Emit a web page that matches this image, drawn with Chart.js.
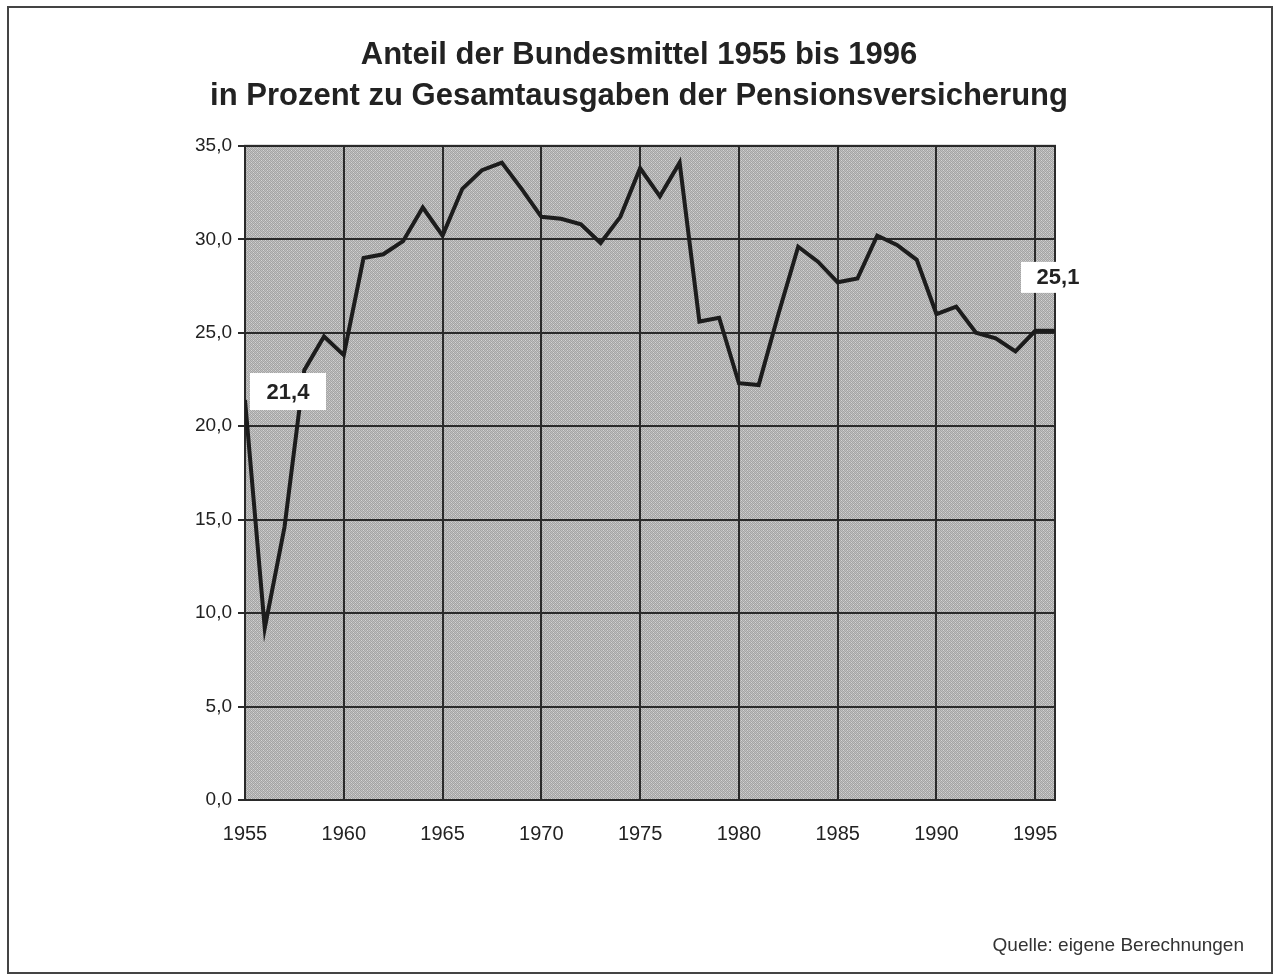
<!DOCTYPE html>
<html>
<head>
<meta charset="utf-8">
<script src="https://cdn.jsdelivr.net/npm/chart.js@4"></script>
<style>
  html, body { margin: 0; padding: 0; background: #fff; }
  #wrap { width: 1278px; height: 976px; }
</style>
</head>
<body>
<div id="wrap"><canvas id="myChart" width="1278" height="976"></canvas></div>
<script>
const years = [1955, 1956, 1957, 1958, 1959, 1960, 1961, 1962, 1963, 1964,
	1965, 1966, 1967, 1968, 1969, 1970, 1971, 1972, 1973, 1974,
	1975, 1976, 1977, 1978, 1979, 1980, 1981, 1982, 1983, 1984,
	1985, 1986, 1987, 1988, 1989, 1990, 1991, 1992, 1993, 1994,
	1995, 1996];
const shares = [21.4, 9.2, 14.6, 23.0, 24.8, 23.8, 29.0, 29.2, 29.9, 31.7,
	30.2, 32.7, 33.7, 34.1, 32.7, 31.2, 31.1, 30.8, 29.8, 31.2,
	33.8, 32.3, 34.1, 25.6, 25.8, 22.3, 22.2, 26.0, 29.6, 28.8,
	27.7, 27.9, 30.2, 29.7, 28.9, 26.0, 26.4, 25.0, 24.7, 24.0,
	25.1, 25.1];
const titleLines = ['Anteil der Bundesmittel 1955 bis 1996', 'in Prozent zu Gesamtausgaben der Pensionsversicherung'];
const sourceNote = 'Quelle: eigene Berechnungen';
const yTicks = [0, 5, 10, 15, 20, 25, 30, 35];
const xTicks = [1955, 1960, 1965, 1970, 1975, 1980, 1985, 1990, 1995];

const fmt = v => v.toFixed(1).replace('.', ',');
const FONT = '"Liberation Sans", Arial, sans-serif';

// grey stipple like the printed original
const tile = document.createElement('canvas');
tile.width = 4;
tile.height = 4;
const tctx = tile.getContext('2d');
tctx.fillStyle = '#c0c0c0';
tctx.fillRect(0, 0, 4, 4);
tctx.fillStyle = '#a4a4a4';
[[0, 0], [2, 0], [1, 1], [3, 1], [0, 2], [2, 2], [1, 3], [3, 3]].forEach(p => tctx.fillRect(p[0], p[1], 1, 1));
tctx.fillStyle = '#d4d4d4';
[[1, 0], [3, 2]].forEach(p => tctx.fillRect(p[0], p[1], 1, 1));

const paper = {
	id: 'paper',
	beforeDraw(chart) {
		const { ctx, chartArea: a } = chart;
		ctx.save();
		ctx.fillStyle = ctx.createPattern(tile, 'repeat');
		ctx.fillRect(a.left, a.top, a.right - a.left, a.bottom - a.top);
		ctx.strokeStyle = '#444';
		ctx.lineWidth = 2;
		ctx.strokeRect(8, 7, 1264, 966);
		ctx.restore();
	},
	beforeDatasetsDraw(chart) {
		const { ctx, chartArea: a } = chart;
		ctx.save();
		ctx.strokeStyle = '#2a2a2a';
		ctx.lineWidth = 2;
		ctx.strokeRect(a.left, a.top, a.right - a.left, a.bottom - a.top);
		ctx.restore();
	},
	afterDatasetsDraw(chart) {
		const { ctx, scales } = chart;
		const label = (i, dx, dy, w, h) => {
			const px = scales.x.getPixelForValue(years[i]);
			const py = scales.y.getPixelForValue(shares[i]);
			ctx.fillStyle = '#fff';
			ctx.fillRect(px + dx, py + dy, w, h);
			ctx.fillStyle = '#222';
			ctx.font = 'bold 22px ' + FONT;
			ctx.textAlign = 'center';
			ctx.textBaseline = 'middle';
			ctx.fillText(fmt(shares[i]), px + dx + w / 2, py + dy + h / 2 + 1);
		};
		ctx.save();
		label(0, 5, -27, 76, 37);
		label(shares.length - 1, -34, -69, 74, 31);
		ctx.restore();
	},
	afterDraw(chart) {
		const { ctx } = chart;
		ctx.save();
		ctx.fillStyle = '#333';
		ctx.font = '19px ' + FONT;
		ctx.textAlign = 'right';
		ctx.textBaseline = 'alphabetic';
		ctx.fillText(sourceNote, 1244, 951);
		ctx.restore();
	}
};

const ctx = document.getElementById('myChart').getContext('2d');
let myChart = new Chart(ctx, {
	type: 'line',
	data: {
		datasets: [
			{
				label: 'Anteil der Bundesmittel',
				data: years.map((y, i) => ({ x: y, y: shares[i] })),
				borderColor: '#1c1c1c',
				borderWidth: 4,
				pointRadius: 0,
				tension: 0,
				borderJoinStyle: 'miter'
			}
		]
	},
	options: {
		responsive: false,
		animation: false,
		layout: { padding: { left: 0, right: 0, top: 0, bottom: 100 } },
		plugins: {
			legend: { display: false },
			tooltip: { enabled: false },
			title: {
				display: true,
				text: titleLines,
				color: '#222',
				font: { family: FONT, size: 31, weight: 'bold', lineHeight: 1.32 },
				padding: { top: 35, bottom: 29 }
			}
		},
		scales: {
			x: {
				type: 'linear',
				min: years[0],
				max: years[years.length - 1],
				afterBuildTicks: s => { s.ticks = xTicks.map(v => ({ value: v })); },
				afterFit: s => { s.height = 76; },
				grid: { color: '#2a2a2a', lineWidth: 2, drawTicks: false },
				border: { display: false },
				ticks: {
					color: '#222',
					padding: 22,
					maxRotation: 0,
					font: { family: FONT, size: 20 },
					callback: v => String(v)
				}
			},
			y: {
				min: 0,
				max: 35,
				afterBuildTicks: s => { s.ticks = yTicks.map(v => ({ value: v })); },
				afterFit: s => { s.width = 245; },
				grid: { color: '#2a2a2a', lineWidth: 2, tickLength: 7 },
				border: { display: false },
				ticks: {
					color: '#222',
					padding: 6,
					font: { family: FONT, size: 19 },
					callback: v => fmt(v)
				}
			},
			// empty right-hand margin so the title stays centred on the page
			yRight: {
				position: 'right',
				min: 0,
				max: 35,
				afterFit: s => { s.width = 223; },
				grid: { display: false },
				border: { display: false },
				ticks: { display: false }
			}
		}
	},
	plugins: [paper]
});
</script>
</body>
</html>
